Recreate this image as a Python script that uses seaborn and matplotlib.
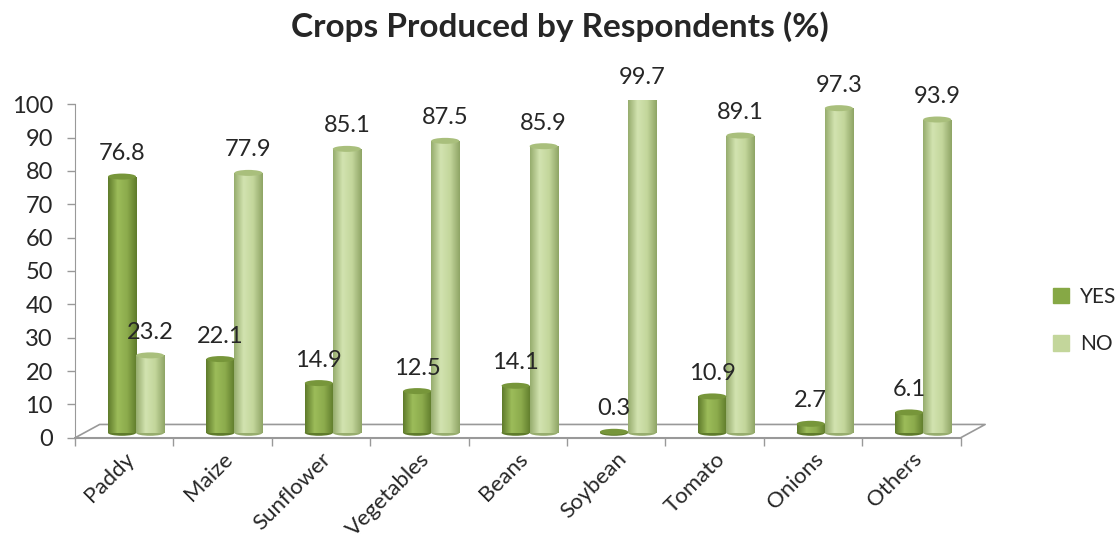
import numpy as np
import pandas as pd
import matplotlib.pyplot as plt
import seaborn as sns
from matplotlib.colors import LinearSegmentedColormap
from matplotlib.patches import Ellipse

# Chart data
crops = ["Paddy", "Maize", "Sunflower", "Vegetables", "Beans",
         "Soybean", "Tomato", "Onions", "Others"]
yes_pct = [76.8, 22.1, 14.9, 12.5, 14.1, 0.3, 10.9, 2.7, 6.1]
no_pct = [23.2, 77.9, 85.1, 87.5, 85.9, 99.7, 89.1, 97.3, 93.9]
answers = ["YES", "NO"]

df = pd.DataFrame({
    "Crop": crops * 2,
    "Answer": ["YES"] * len(crops) + ["NO"] * len(crops),
    "Percent": yes_pct + no_pct,
})

sns.set_style("white")
plt.rcParams["font.family"] = ["Lato", "DejaVu Sans"]

colors = {"YES": "#86A845", "NO": "#C3D69B"}
# dark edge -> highlight -> dark edge, to look like a cylinder
shades = {"YES": ["#5F7B2B", "#9CBC5A", "#8CAB4C", "#5F7B2B"],
          "NO": ["#97AD6E", "#D2E3B0", "#C3D69B", "#8FA566"]}
caps = {"YES": "#77963A", "NO": "#A9BF7C"}

fig = plt.figure(figsize=(11.2, 5.57), dpi=100)
ax = fig.add_axes([0.067, 0.214, 0.817, 0.599])

sns.barplot(data=df, x="Crop", y="Percent", hue="Answer", order=crops,
            hue_order=answers, palette=colors, width=0.57, dodge=True,
            legend=False, ax=ax)

grad = np.linspace(0, 1, 64).reshape(1, -1)
for cont, ans in zip(ax.containers, answers):
    cmap = LinearSegmentedColormap.from_list(ans, shades[ans])
    for bar in cont:
        bar.set_x(bar.get_x() + 0.12)
        bar.set_y(1.5)
        bar.set_linewidth(0)
        x0, w = bar.get_x(), bar.get_width()
        y0, h = bar.get_y(), bar.get_height()
        # rounded bottom
        ax.add_patch(Ellipse((x0 + w / 2, y0), w, 1.8, color=shades[ans][0],
                             zorder=2.9, lw=0))
        im = ax.imshow(grad, cmap=cmap, aspect="auto", zorder=3,
                       extent=[x0, x0 + w, y0, y0 + h])
        im.set_clip_path(bar)
        # top cap
        ax.add_patch(Ellipse((x0 + w / 2, y0 + h), w, 1.8, color=caps[ans],
                             zorder=3.1, lw=0))
    labels = ax.bar_label(cont, labels=[f"{v:.1f}" for v in cont.datavalues],
                          padding=9, fontsize=17, zorder=5)
    for t in labels:
        t.set_annotation_clip(False)

# floor
gray = "#999999"
ax.plot([-0.5, -0.25, 8.75, 8.5, -0.5], [0, 4, 4, 0, 0], color=gray,
        lw=1.2, clip_on=False, zorder=1)

ax.set_xlim(-0.5, 8.8)
ax.set_ylim(0, 100)
ax.set_yticks(range(0, 101, 10))
ax.tick_params(axis="y", left=True, labelsize=17, length=6, width=1,
               color=gray, pad=10)
ax.set_xticks(np.arange(-0.5, 9, 1), minor=True)
ax.tick_params(axis="x", which="major", length=0, labelsize=16, pad=8)
ax.tick_params(axis="x", which="minor", length=6, width=1, color=gray,
               direction="out", bottom=True)
plt.setp(ax.get_xticklabels(), rotation=45, ha="right",
         rotation_mode="anchor")
ax.set_xlabel("")
ax.set_ylabel("")

for s in ["top", "right"]:
    ax.spines[s].set_visible(False)
ax.spines["left"].set_color(gray)
ax.spines["bottom"].set_color(gray)
ax.spines["bottom"].set_bounds(-0.5, 8.5)

fig.suptitle("Crops Produced by Respondents (%)", fontsize=24,
             fontweight="bold", y=0.98)

handles = [plt.Rectangle((0, 0), 1, 1, color=colors[a]) for a in answers]
fig.legend(handles, answers, loc="center left", bbox_to_anchor=(0.94, 0.425),
           frameon=False, fontsize=15, handlelength=0.8, handleheight=0.8,
           labelspacing=1.3, handletextpad=0.5, borderpad=0,
           borderaxespad=0)

fig.savefig("out.png", dpi=100)
